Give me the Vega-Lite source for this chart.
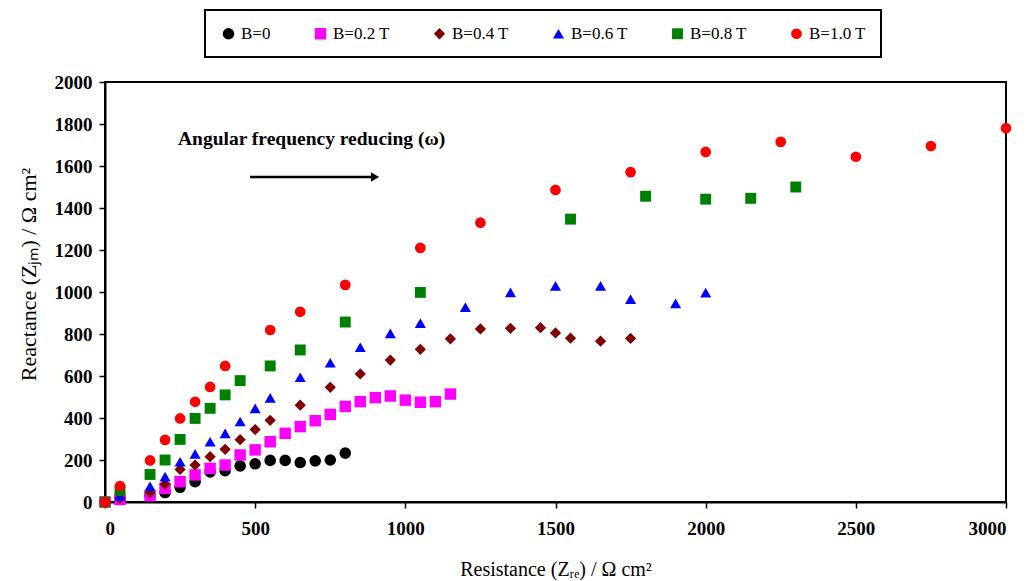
{
  "$schema": "https://vega.github.io/schema/vega-lite/v6.json",
  "width": 901,
  "height": 420,
  "autosize": {"type": "none"},
  "padding": {"left": 105, "top": 82, "right": 21, "bottom": 79},
  "background": "white",
  "datasets": {
    "points": [
      {"B":"B=0","x":0,"y":0},{"B":"B=0","x":50,"y":20},{"B":"B=0","x":150,"y":30},{"B":"B=0","x":200,"y":45},{"B":"B=0","x":250,"y":70},{"B":"B=0","x":300,"y":97},{"B":"B=0","x":350,"y":143},{"B":"B=0","x":400,"y":149},{"B":"B=0","x":450,"y":172},{"B":"B=0","x":500,"y":182},{"B":"B=0","x":550,"y":198},{"B":"B=0","x":600,"y":198},{"B":"B=0","x":650,"y":188},{"B":"B=0","x":700,"y":196},{"B":"B=0","x":750,"y":200},{"B":"B=0","x":800,"y":233},
      {"B":"B=0.2 T","x":0,"y":0},{"B":"B=0.2 T","x":50,"y":12},{"B":"B=0.2 T","x":150,"y":30},{"B":"B=0.2 T","x":200,"y":65},{"B":"B=0.2 T","x":250,"y":97},{"B":"B=0.2 T","x":300,"y":129},{"B":"B=0.2 T","x":350,"y":160},{"B":"B=0.2 T","x":400,"y":176},{"B":"B=0.2 T","x":450,"y":224},{"B":"B=0.2 T","x":500,"y":248},{"B":"B=0.2 T","x":550,"y":287},{"B":"B=0.2 T","x":600,"y":327},{"B":"B=0.2 T","x":650,"y":359},{"B":"B=0.2 T","x":700,"y":387},{"B":"B=0.2 T","x":750,"y":417},{"B":"B=0.2 T","x":800,"y":455},{"B":"B=0.2 T","x":850,"y":478},{"B":"B=0.2 T","x":900,"y":497},{"B":"B=0.2 T","x":950,"y":505},{"B":"B=0.2 T","x":1000,"y":485},{"B":"B=0.2 T","x":1050,"y":475},{"B":"B=0.2 T","x":1100,"y":478},{"B":"B=0.2 T","x":1150,"y":514},
      {"B":"B=0.4 T","x":0,"y":0},{"B":"B=0.4 T","x":50,"y":18},{"B":"B=0.4 T","x":150,"y":45},{"B":"B=0.4 T","x":200,"y":85},{"B":"B=0.4 T","x":250,"y":155},{"B":"B=0.4 T","x":300,"y":176},{"B":"B=0.4 T","x":350,"y":216},{"B":"B=0.4 T","x":400,"y":251},{"B":"B=0.4 T","x":450,"y":297},{"B":"B=0.4 T","x":500,"y":345},{"B":"B=0.4 T","x":550,"y":389},{"B":"B=0.4 T","x":650,"y":461},{"B":"B=0.4 T","x":750,"y":546},{"B":"B=0.4 T","x":850,"y":610},{"B":"B=0.4 T","x":950,"y":676},{"B":"B=0.4 T","x":1050,"y":727},{"B":"B=0.4 T","x":1150,"y":777},{"B":"B=0.4 T","x":1250,"y":824},{"B":"B=0.4 T","x":1350,"y":827},{"B":"B=0.4 T","x":1450,"y":830},{"B":"B=0.4 T","x":1500,"y":805},{"B":"B=0.4 T","x":1550,"y":780},{"B":"B=0.4 T","x":1650,"y":766},{"B":"B=0.4 T","x":1750,"y":779},
      {"B":"B=0.6 T","x":0,"y":0},{"B":"B=0.6 T","x":50,"y":29},{"B":"B=0.6 T","x":150,"y":75},{"B":"B=0.6 T","x":200,"y":121},{"B":"B=0.6 T","x":250,"y":192},{"B":"B=0.6 T","x":300,"y":229},{"B":"B=0.6 T","x":350,"y":287},{"B":"B=0.6 T","x":400,"y":327},{"B":"B=0.6 T","x":450,"y":383},{"B":"B=0.6 T","x":500,"y":446},{"B":"B=0.6 T","x":550,"y":496},{"B":"B=0.6 T","x":650,"y":594},{"B":"B=0.6 T","x":750,"y":663},{"B":"B=0.6 T","x":850,"y":737},{"B":"B=0.6 T","x":950,"y":803},{"B":"B=0.6 T","x":1050,"y":852},{"B":"B=0.6 T","x":1200,"y":928},{"B":"B=0.6 T","x":1350,"y":998},{"B":"B=0.6 T","x":1500,"y":1029},{"B":"B=0.6 T","x":1650,"y":1029},{"B":"B=0.6 T","x":1750,"y":966},{"B":"B=0.6 T","x":1900,"y":946},{"B":"B=0.6 T","x":2000,"y":997},
      {"B":"B=0.8 T","x":0,"y":0},{"B":"B=0.8 T","x":50,"y":56},{"B":"B=0.8 T","x":150,"y":131},{"B":"B=0.8 T","x":200,"y":200},{"B":"B=0.8 T","x":250,"y":298},{"B":"B=0.8 T","x":300,"y":398},{"B":"B=0.8 T","x":350,"y":446},{"B":"B=0.8 T","x":400,"y":510},{"B":"B=0.8 T","x":450,"y":578},{"B":"B=0.8 T","x":550,"y":648},{"B":"B=0.8 T","x":650,"y":724},{"B":"B=0.8 T","x":800,"y":857},{"B":"B=0.8 T","x":1050,"y":998},{"B":"B=0.8 T","x":1550,"y":1347},{"B":"B=0.8 T","x":1800,"y":1456},{"B":"B=0.8 T","x":2000,"y":1442},{"B":"B=0.8 T","x":2150,"y":1446},{"B":"B=0.8 T","x":2300,"y":1500},
      {"B":"B=1.0 T","x":0,"y":0},{"B":"B=1.0 T","x":50,"y":76},{"B":"B=1.0 T","x":150,"y":198},{"B":"B=1.0 T","x":200,"y":296},{"B":"B=1.0 T","x":250,"y":398},{"B":"B=1.0 T","x":300,"y":477},{"B":"B=1.0 T","x":350,"y":548},{"B":"B=1.0 T","x":400,"y":648},{"B":"B=1.0 T","x":550,"y":819},{"B":"B=1.0 T","x":650,"y":906},{"B":"B=1.0 T","x":800,"y":1034},{"B":"B=1.0 T","x":1050,"y":1210},{"B":"B=1.0 T","x":1250,"y":1330},{"B":"B=1.0 T","x":1500,"y":1486},{"B":"B=1.0 T","x":1750,"y":1571},{"B":"B=1.0 T","x":2000,"y":1667},{"B":"B=1.0 T","x":2250,"y":1715},{"B":"B=1.0 T","x":2500,"y":1644},{"B":"B=1.0 T","x":2750,"y":1695},{"B":"B=1.0 T","x":3000,"y":1780}
    ],
    "note": [{"label": "Angular frequency reducing (ω)", "x": 243, "y": 1729}],
    "arrow": [{"x": 483, "x2": 892, "y": 1548, "head": 899}]
  },
  "layer": [
    {
      "data": {"name": "points"},
      "mark": {"type": "point", "filled": true, "opacity": 1, "strokeWidth": 0},
      "encoding": {
        "x": {"field": "x", "type": "quantitative", "scale": {"domain": [0, 3000], "nice": false},
              "axis": {"values": [0, 500, 1000, 1500, 2000, 2500, 3000], "format": "d", "title": "Resistance (Zᵣₑ)  / Ω cm²",
                       "labelFont": "Liberation Serif", "labelFontSize": 19, "labelFontWeight": "bold", "labelPadding": 11,
                       "titleFont": "Liberation Serif", "titleFontSize": 20, "titlePadding": 21}},
        "y": {"field": "y", "type": "quantitative", "scale": {"domain": [0, 2000], "nice": false},
              "axis": {"values": [0, 200, 400, 600, 800, 1000, 1200, 1400, 1600, 1800, 2000], "format": "d", "title": "Reactance (Zⱼₘ)  / Ω cm²",
                       "labelFont": "Liberation Serif", "labelFontSize": 19, "labelFontWeight": "bold", "labelPadding": 7,
                       "titleFont": "Liberation Serif", "titleFontSize": 22, "titlePadding": 14, "titleY": 192}},
        "color": {"field": "B", "type": "nominal",
                  "scale": {"domain": ["B=0", "B=0.2 T", "B=0.4 T", "B=0.6 T", "B=0.8 T", "B=1.0 T"],
                            "range": ["#000000", "#FF00FF", "#800000", "#0000FF", "#008000", "#FF0000"]},
                  "legend": {"title": null, "orient": "none", "legendX": 100, "legendY": -72, "direction": "horizontal"}},
        "shape": {"field": "B", "type": "nominal",
                  "scale": {"domain": ["B=0", "B=0.2 T", "B=0.4 T", "B=0.6 T", "B=0.8 T", "B=1.0 T"],
                            "range": ["circle", "square", "diamond", "triangle-up", "square", "circle"]},
                  "legend": {"title": null, "orient": "none", "legendX": 100, "legendY": -72, "direction": "horizontal"}},
        "size": {"field": "B", "type": "ordinal",
                 "scale": {"domain": ["B=0", "B=0.2 T", "B=0.4 T", "B=0.6 T", "B=0.8 T", "B=1.0 T"],
                           "range": [135, 115, 205, 205, 130, 150]},
                 "legend": null}
      }
    },
    {
      "data": {"name": "note"},
      "mark": {"type": "text", "align": "left", "baseline": "middle", "font": "Liberation Serif", "fontSize": 19.5, "fontWeight": "bold", "color": "black"},
      "encoding": {
        "x": {"field": "x", "type": "quantitative"},
        "y": {"field": "y", "type": "quantitative"},
        "text": {"field": "label"}
      }
    },
    {
      "data": {"name": "arrow"},
      "mark": {"type": "rule", "color": "black", "strokeWidth": 2.5},
      "encoding": {
        "x": {"field": "x", "type": "quantitative"},
        "x2": {"field": "x2"},
        "y": {"field": "y", "type": "quantitative"}
      }
    },
    {
      "data": {"name": "arrow"},
      "mark": {"type": "point", "shape": "triangle-right", "filled": true, "color": "black", "size": 90, "opacity": 1},
      "encoding": {
        "x": {"field": "head", "type": "quantitative"},
        "y": {"field": "y", "type": "quantitative"}
      }
    }
  ],
  "config": {
    "view": {"stroke": "black", "strokeWidth": 2},
    "axis": {
      "grid": false,
      "domainColor": "black", "domainWidth": 2,
      "tickColor": "black", "tickWidth": 1.5, "tickSize": 6,
      "labelColor": "black",
      "titleFontWeight": "normal", "titleColor": "black"
    },
    "legend": {
      "strokeColor": "black", "strokeWidth": 2, "padding": 15,
      "labelFont": "Liberation Serif", "labelFontSize": 17, "labelColor": "black",
      "symbolSize": 110, "labelOffset": 4, "columnPadding": 41, "symbolStrokeWidth": 0
    }
  }
}
